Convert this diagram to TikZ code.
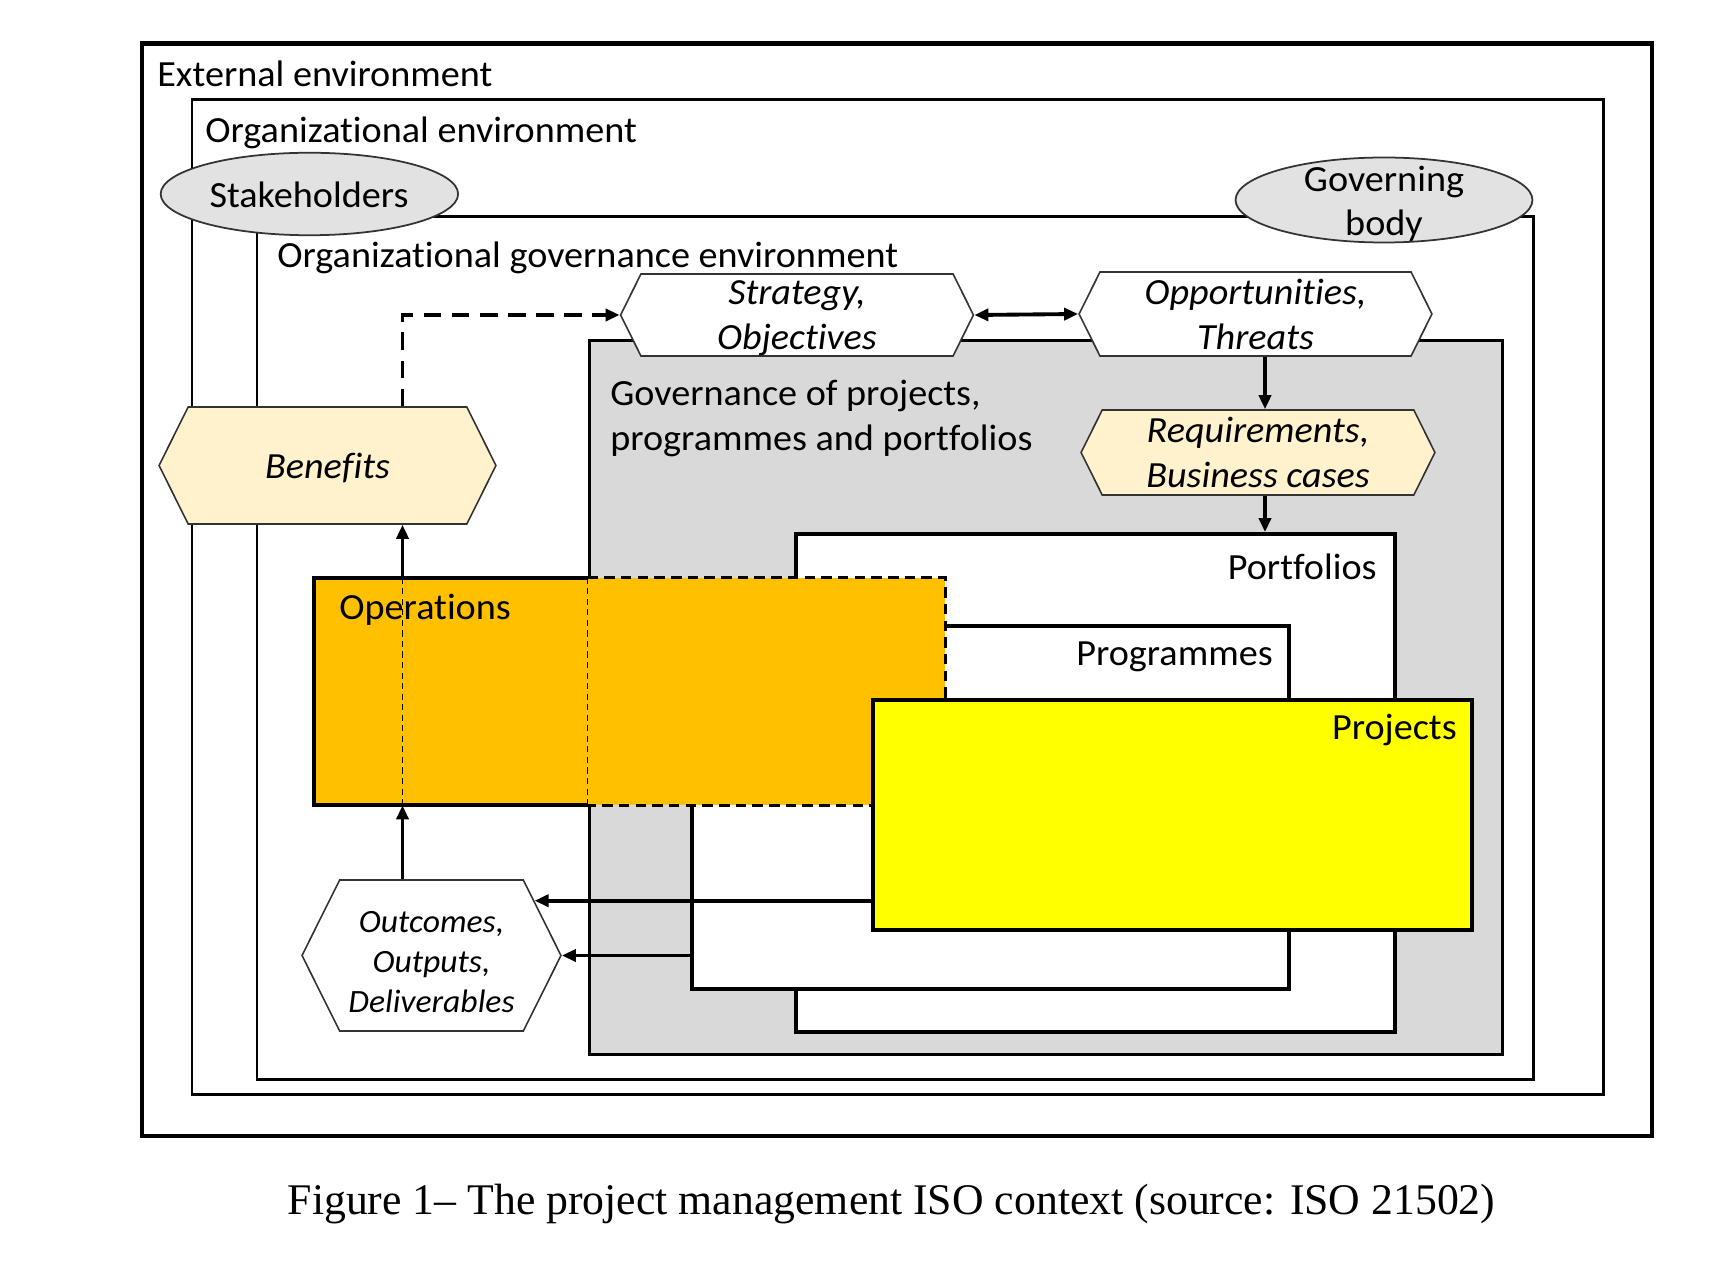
\documentclass[tikz,border=0pt]{standalone}
\usepackage{fontspec}
\setmainfont{Carlito}[Ligatures=NoCommon,FakeStretch=1.035]
\newfontfamily\capfont{Liberation Serif}
\usetikzlibrary{shapes.symbols,shapes.geometric,arrows.meta}
\definecolor{govgrey}{HTML}{D9D9D9}
\definecolor{ellgrey}{HTML}{E2E2E2}
\definecolor{cream}{HTML}{FFF2CC}
\definecolor{opsorange}{HTML}{FFC000}
\definecolor{projyellow}{HTML}{FFFF00}

\begin{document}
\begin{tikzpicture}[x=0.02cm,y=-0.02cm,
  font=\fontsize{21}{25.6}\selectfont,
  lbl/.style={inner sep=0pt},
  box/.style={draw,line width=2.2pt,inner sep=0pt},
  hexa/.style={draw=black!80,line width=0.9pt,signal,signal to=east and west,
    signal pointer angle=127,inner sep=0pt,align=center,text depth=0pt,
    font=\fontsize{21}{25.5}\selectfont\itshape},
  ell/.style={draw=black!80,line width=1pt,ellipse,fill=ellgrey,inner sep=0pt},
  arr/.style={line width=2.2pt,-{Triangle[length=0.28cm,width=0.24cm]}},
  dblarr/.style={line width=2.2pt,{Triangle[length=0.28cm,width=0.24cm]}-{Triangle[length=0.28cm,width=0.24cm]}},
  dasharr/.style={arr,dash pattern=on 10pt off 6pt},
  thindash/.style={line width=0.8pt,dash pattern=on 3.5pt off 2.5pt}]
\useasboundingbox (0,0) rectangle (1722,1263);

\draw[line width=2.3pt] (141.7,43.5) rectangle (1651.8,1135.8);
\draw[line width=1.7pt] (192,99.5) rectangle (1603.4,1094.8);
\draw[line width=1.7pt] (257,216.4) rectangle (1533.7,1079.5);

\node[box,line width=1.7pt,fill=govgrey,minimum width=18.27cm,minimum height=14.29cm] (gppp) at (1045.7,697.2) {};
\node[box,fill=white,minimum width=11.98cm,minimum height=9.96cm] (portfolio) at (1095.5,783) {};
\node[box,line width=2pt,fill=white,minimum width=11.94cm,minimum height=7.26cm] (programmes) at (990.5,807.5) {};

\node[fill=opsorange,inner sep=0pt,minimum width=12.62cm,minimum height=4.54cm] (ops) at (629.5,691.5) {};
\draw[line width=2.2pt] (ops.north -| gppp.west) -- (ops.north west) -- (ops.south west) -- (ops.south -| gppp.west);
\draw[line width=1.7pt,dash pattern=on 6pt off 3.5pt] (ops.north -| gppp.west) -- (ops.north east) -- (ops.south east) -- (ops.south -| gppp.west);
\draw[thindash] (ops.north -| gppp.west) -- (ops.south -| gppp.west);

\node[box,line width=2pt,fill=projyellow,minimum width=11.98cm,minimum height=4.6cm] (projects) at (1172.5,815) {};

\node[ell,minimum width=5.95cm,minimum height=1.65cm] (stake) at (309.4,194) {};
\node[ell,minimum width=5.94cm,minimum height=1.7cm] (govbody) at (1384,200) {};

\node[hexa,fill=white,minimum width=7.06cm,minimum height=1.64cm] (strategy) at (797,315) {Strategy,\\Objectives};
\node[hexa,fill=white,minimum width=7.06cm,minimum height=1.68cm] (opp) at (1255.5,314) {Opportunities,\\Threats};
\node[hexa,fill=cream,minimum width=7.08cm,minimum height=1.7cm] (req) at (1258,452.5) {Requirements,\\Business cases};
\node[hexa,fill=cream,minimum width=6.74cm,minimum height=2.34cm] (ben) at (327.5,465.5) {Benefits};
\node[hexa,fill=white,minimum width=5.18cm,minimum height=3.02cm] (outcomes) at (431.5,955.5) {};
\node[lbl,align=center,font=\fontsize{18.5}{22.8}\selectfont\itshape] (outtxt) at (431.5,962) {Outcomes,\\Outputs,\\Deliverables};

\coordinate (axis) at (402.5,0);
\coordinate (riser) at (1265,0);
\coordinate (outA) at (outcomes.28.7);

\draw[thindash] (ops.north -| axis) -- (ops.south -| axis);
\draw[arr] (outcomes.north -| axis) -- (ops.south -| axis);
\draw[arr] (ops.north -| axis) -- (ben.south -| axis);
\draw[dasharr] (ben.north -| axis) |- (strategy.west);
\draw[dblarr] (strategy.east) -- (opp.west);
\draw[arr] (opp.south -| riser) -- (req.north -| riser);
\draw[arr] (req.south -| riser) -- (portfolio.north -| riser);
\draw[arr] (projects.west |- outA) -- (outA);
\draw[arr] (programmes.west |- outcomes.east) -- (outcomes.east);

\node[lbl,anchor=base west] (extlbl) at (157,87) {External environment};
\node[lbl,anchor=base west] (orglbl) at (205,143) {Organizational environment};
\node[lbl,anchor=base west] (govlbl) at (277,268) {Organizational governance environment};
\node[lbl] (staketxt) at (309,195) {Stakeholders};
\node[lbl,align=center,font=\fontsize{21}{25}\selectfont] (govtxt) at (1384,204) {Governing\\body};
\node[lbl,anchor=north west,align=left] (gppplbl) at (610,380) {Governance of projects,\\programmes and portfolios};
\node[lbl,anchor=base east] (portlbl) at (1377,580) {Portfolios};
\node[lbl,anchor=base east] (proglbl) at (1273,666) {Programmes};
\node[lbl,anchor=base east] (projlbl) at (1457,740) {Projects};
\node[lbl,anchor=base west] (opslbl) at (339,620) {Operations};

\node[lbl,anchor=base,font=\capfont\fontsize{24.9}{28}\selectfont] (caption) at (891.5,1214) {Figure 1– The project management ISO context (source: ISO 21502)};
\end{tikzpicture}
\end{document}
